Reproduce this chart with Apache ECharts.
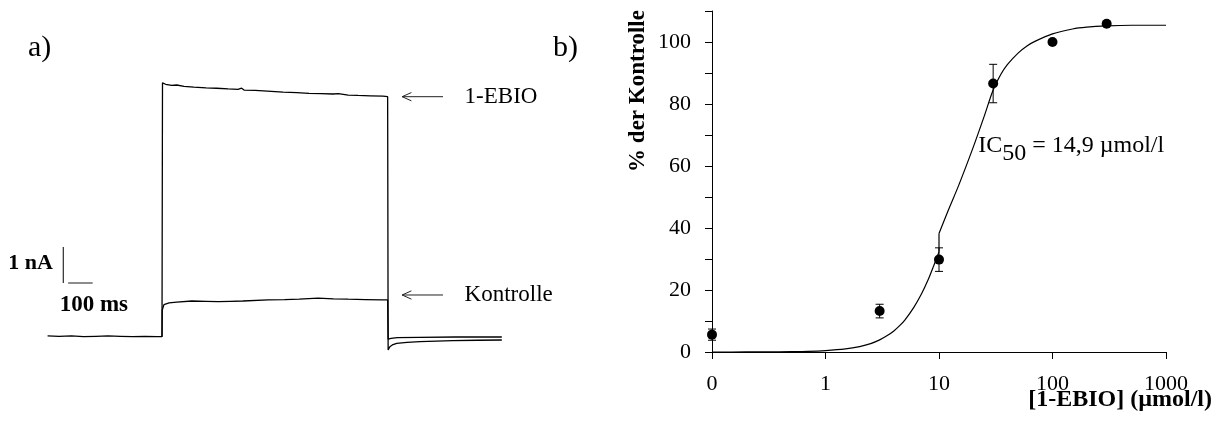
<!DOCTYPE html>
<html>
<head>
<meta charset="utf-8">
<script src="https://cdn.jsdelivr.net/npm/echarts@6/dist/echarts.min.js"></script>
<style>
  html, body { margin: 0; padding: 0; background: #fff; }
  #chart { width: 1215px; height: 421px; }
</style>
</head>
<body>
<div id="chart"></div>
<script>
// a) Stromspuren: Zeit in ms (0 = Beginn des Pulses), Strom in nA relativ zur Grundlinie
var ebioT = [-467, -420, -370, -320, -270, -220, -170, -120, -70, -20, 0, 2, 15, 40, 60, 90, 130, 180, 223, 270, 310, 325, 335, 380, 430, 494, 550, 600, 650, 698, 720, 760, 800, 850, 902, 921, 923, 930, 940, 958, 1000, 1053, 1120, 1188, 1290, 1387];
var ebioI = [0.03, 0.02, 0.03, 0.01, 0.02, 0.03, 0.02, 0.01, 0.02, 0.01, 0.01, 7.06, 7.02, 6.99, 7.0, 6.96, 6.94, 6.92, 6.91, 6.89, 6.88, 6.91, 6.86, 6.85, 6.83, 6.8, 6.79, 6.77, 6.76, 6.75, 6.76, 6.72, 6.71, 6.7, 6.69, 6.675, -0.36, -0.27, -0.22, -0.175, -0.15, -0.13, -0.115, -0.1, -0.09, -0.083];
var kontrT = [0, 1, 8, 29, 60, 122, 180, 230, 278, 330, 433, 500, 560, 637, 700, 760, 830, 898, 921, 923, 935, 960, 1050, 1200, 1387];
var kontrI = [0.01, 0.75, 0.9, 0.95, 0.97, 1.0, 0.99, 0.98, 0.99, 1.0, 1.03, 1.04, 1.05, 1.08, 1.06, 1.05, 1.04, 1.03, 1.03, -0.06, -0.04, -0.02, -0.01, 0, 0];

// b) Konzentrations-Wirkungs-Kurve ("0" wird bei 0,1 µmol/l gezeichnet)
var conc = [0.1, 3, 10, 30, 100, 300];
var pctMean = [5.6, 13.2, 29.8, 86.6, 100.0, 105.9];
var pctErr = [1.8, 2.2, 3.8, 6.2, 0, 0];

// Kurve: unterer Ast bis 10 µmol/l, oberer Ast ab 10 µmol/l
var fitLowX = [0.1, 0.2, 0.3, 0.5, 0.7, 1, 1.5, 2, 2.5, 3, 3.5, 4, 4.5, 5, 6, 7, 8, 9, 10];
var fitLowY = [0, 0.01, 0.04, 0.11, 0.2, 0.45, 1.0, 1.75, 2.7, 3.9, 5.3, 6.8, 8.5, 10.3, 14.4, 18.7, 23.2, 27.9, 32.3];
var fitHighX = [10, 12, 15, 20, 25, 30, 35, 40, 50, 60, 70, 100, 150, 200, 300, 500, 1000];
var fitHighY = [38.2, 45.5, 54, 66, 76, 84.5, 89.5, 92.7, 96.5, 98.8, 100.2, 102.6, 104.2, 104.8, 105.2, 105.4, 105.4];

var xTicks = [0.1, 1, 10, 100, 1000];
var xTickLabels = ['0', '1', '10', '100', '1000'];

function pairs(xs, ys) {
  return xs.map(function (x, i) { return [x, ys[i]]; });
}

var black = '#000';
var serif = 'Liberation Serif';

var chart = echarts.init(document.getElementById('chart'));

// unsichtbarer Ankerpunkt fuer Beschriftungen
var anchor = { symbol: 'circle', symbolSize: 1, itemStyle: { color: 'rgba(0,0,0,0)', opacity: 1 } };

var option = {
  backgroundColor: '#fff',
  animation: false,
  textStyle: { fontFamily: serif, color: black },
  grid: [
    { left: 39.5, top: 49, width: 490, height: 324 },
    { left: 712, top: 11, width: 454, height: 341 }
  ],
  xAxis: [
    { gridIndex: 0, type: 'value', min: -500, max: 1500, show: false },
    {
      gridIndex: 1,
      type: 'log',
      logBase: 10,
      min: 0.1,
      max: 1000,
      axisLine: { lineStyle: { color: black, width: 1 } },
      axisTick: { length: 7, lineStyle: { color: black } },
      splitLine: { show: false },
      axisLabel: {
        color: black,
        fontSize: 22,
        margin: 21,
        formatter: function (v) {
          for (var i = 0; i < xTicks.length; i++) {
            if (Math.abs(Math.log10(v) - Math.log10(xTicks[i])) < 1e-6) return xTickLabels[i];
          }
          return '';
        }
      }
    }
  ],
  yAxis: [
    { gridIndex: 0, type: 'value', min: -1, max: 8, show: false },
    {
      gridIndex: 1,
      type: 'value',
      min: 0,
      max: 110,
      interval: 10,
      axisLine: { show: true, lineStyle: { color: black, width: 1 } },
      axisTick: { show: true, length: 7, lineStyle: { color: black } },
      splitLine: { show: false },
      axisLabel: {
        color: black,
        fontSize: 22,
        margin: 21,
        formatter: function (v) {
          return (v % 20 === 0 && v <= 100) ? String(v) : '';
        }
      }
    }
  ],
  series: [
    // panel a traces
    {
      name: '1-EBIO', type: 'line', xAxisIndex: 0, yAxisIndex: 0,
      data: pairs(ebioT, ebioI), showSymbol: false, symbol: 'none',
      lineStyle: { color: black, width: 1.3 }
    },
    {
      name: 'Kontrolle', type: 'line', xAxisIndex: 0, yAxisIndex: 0,
      data: pairs(kontrT, kontrI), showSymbol: false, symbol: 'none',
      lineStyle: { color: black, width: 1.3 }
    },
    // scale bars
    {
      type: 'line', xAxisIndex: 0, yAxisIndex: 0, symbol: 'none',
      data: [[-403, 1.5], [-403, 2.5]],
      lineStyle: { color: black, width: 1 }
    },
    {
      type: 'line', xAxisIndex: 0, yAxisIndex: 0, symbol: 'none',
      data: [[-383, 1.5], [-283, 1.5]],
      lineStyle: { color: '#666', width: 1.5 }
    },
    // arrows
    {
      type: 'line', xAxisIndex: 0, yAxisIndex: 0, symbol: 'none',
      data: [[980, 6.675], [1147, 6.675]],
      lineStyle: { color: '#222', width: 1 }
    },
    {
      type: 'line', xAxisIndex: 0, yAxisIndex: 0, symbol: 'none',
      data: [[1018, 6.79], [980, 6.675], [1018, 6.56]],
      lineStyle: { color: '#222', width: 1 }
    },
    {
      type: 'line', xAxisIndex: 0, yAxisIndex: 0, symbol: 'none',
      data: [[980, 1.167], [1147, 1.167]],
      lineStyle: { color: '#222', width: 1 }
    },
    {
      type: 'line', xAxisIndex: 0, yAxisIndex: 0, symbol: 'none',
      data: [[1018, 1.282], [980, 1.167], [1018, 1.052]],
      lineStyle: { color: '#222', width: 1 }
    },
    // panel a text
    Object.assign({
      type: 'scatter', xAxisIndex: 0, yAxisIndex: 0, silent: true,
      data: [
        { value: [1233, 6.675], label: { formatter: '1-EBIO', position: 'right', distance: 0 } },
        { value: [1233, 1.167], label: { formatter: 'Kontrolle', position: 'right', distance: 0 } },
        { value: [-443, 2.06], label: { formatter: '1 nA', position: 'left', distance: 0, fontWeight: 'bold', fontSize: 22 } },
        { value: [-278, 0.89], label: { formatter: '100 ms', position: 'inside', fontWeight: 'bold' } }
      ],
      label: { show: true, color: black, fontSize: 23, fontFamily: serif }
    }, anchor),
    // panel b fit curve
    {
      name: 'Fit', type: 'line', xAxisIndex: 1, yAxisIndex: 1,
      data: pairs(fitLowX, fitLowY), symbol: 'none', smooth: 0.3,
      lineStyle: { color: black, width: 1.2 }
    },
    {
      name: 'Fit', type: 'line', xAxisIndex: 1, yAxisIndex: 1,
      data: [[fitLowX[fitLowX.length - 1], fitLowY[fitLowY.length - 1]], [fitHighX[0], fitHighY[0]]],
      symbol: 'none', lineStyle: { color: black, width: 1.2 }
    },
    {
      name: 'Fit', type: 'line', xAxisIndex: 1, yAxisIndex: 1,
      data: pairs(fitHighX, fitHighY), symbol: 'none', smooth: 0.3,
      lineStyle: { color: black, width: 1.2 }
    },
    // error bars
    {
      type: 'custom', xAxisIndex: 1, yAxisIndex: 1,
      data: conc.map(function (c, i) { return [c, pctMean[i], pctErr[i]]; }),
      renderItem: function (params, api) {
        var x = api.value(0), y = api.value(1), e = api.value(2);
        if (!e) return null;
        var top = api.coord([x, y + e]);
        var bot = api.coord([x, y - e]);
        var w = 4;
        var st = { stroke: black, lineWidth: 1 };
        return {
          type: 'group',
          children: [
            { type: 'line', shape: { x1: top[0], y1: top[1], x2: bot[0], y2: bot[1] }, style: st },
            { type: 'line', shape: { x1: top[0] - w, y1: top[1], x2: top[0] + w, y2: top[1] }, style: st },
            { type: 'line', shape: { x1: bot[0] - w, y1: bot[1], x2: bot[0] + w, y2: bot[1] }, style: st }
          ]
        };
      },
      z: 3
    },
    // data points
    {
      name: 'Messwerte', type: 'scatter', xAxisIndex: 1, yAxisIndex: 1,
      data: pairs(conc, pctMean), symbol: 'circle', symbolSize: 10,
      itemStyle: { color: black, opacity: 1 }, z: 4
    },
    // IC50 annotation
    Object.assign({
      type: 'scatter', xAxisIndex: 1, yAxisIndex: 1, silent: true,
      data: [{ value: [21.9, 65.4] }],
      label: {
        show: true, position: 'right', distance: 0,
        formatter: '{a|IC}{b|50}{a| = 14,9 \u00b5mol/l}',
        rich: {
          a: { fontSize: 24, fontFamily: serif, color: black, padding: [0, 0, 8, 0] },
          b: { fontSize: 24, fontFamily: serif, color: black, padding: [8, 0, 0, 0] }
        }
      }
    }, anchor)
  ],
  graphic: [
    { type: 'text', left: 28, top: 33, style: { text: 'a)', font: '30px "Liberation Serif"', fill: black } },
    { type: 'text', left: 553, top: 33, style: { text: 'b)', font: '30px "Liberation Serif"', fill: black } },
    {
      type: 'text', x: 638, y: 91, rotation: Math.PI / 2,
      style: { text: '% der Kontrolle', font: 'bold 23px "Liberation Serif"', fill: black, align: 'center', verticalAlign: 'middle' }
    },
    {
      type: 'text', right: 3, top: 388,
      style: { text: '[1-EBIO] (\u00b5mol/l)', font: 'bold 24px "Liberation Serif"', fill: black }
    }
  ]
};

chart.setOption(option);
</script>
</body>
</html>
